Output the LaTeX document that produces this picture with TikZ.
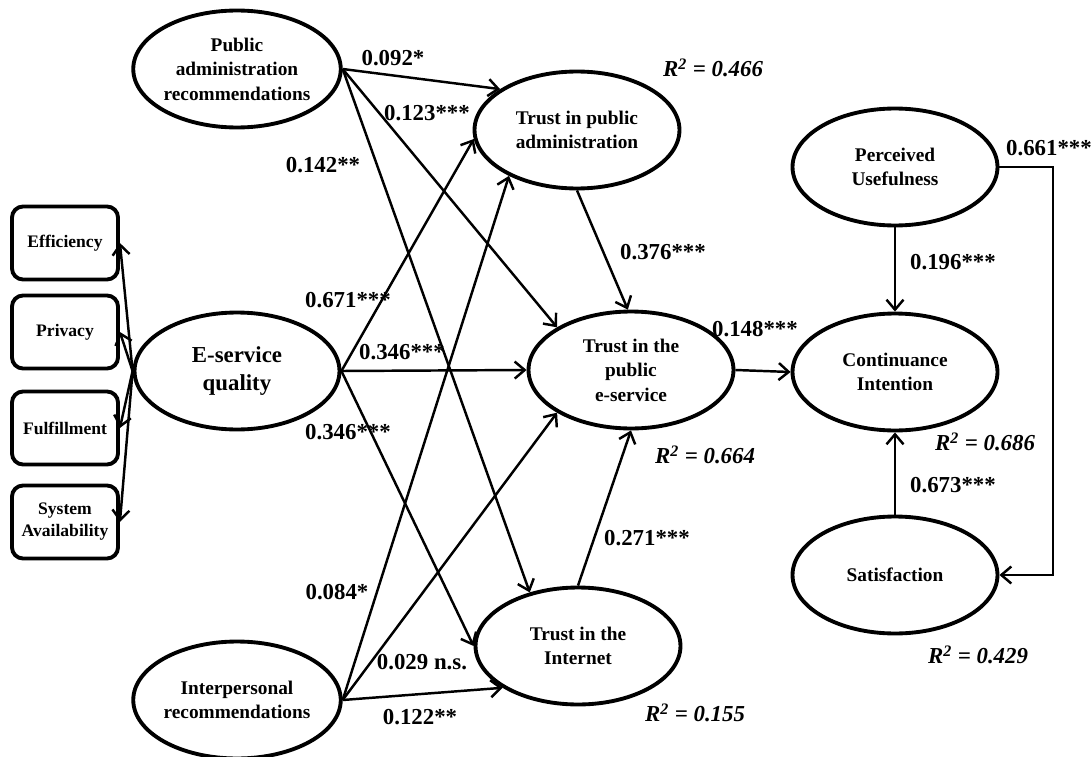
\documentclass[tikz,border=0pt]{standalone}
\usepackage{fontspec}
\setmainfont{Liberation Serif}
\usetikzlibrary{shapes.geometric,arrows.meta}

\begin{document}
\begin{tikzpicture}[x=0.02cm,y=-0.02cm,
  construct/.style={ellipse,draw,line width=2.2pt,minimum width=4.1cm,minimum height=2.34cm,
    inner sep=0pt,align=center,font=\bfseries\fontsize{11}{14}\selectfont},
  dimension/.style={draw,rounded corners=0.22cm,line width=2.2pt,minimum width=2.12cm,
    minimum height=1.46cm,inner sep=1pt,align=center,font=\bfseries\fontsize{10}{12.5}\selectfont},
  effect/.style={line width=1.4pt,-{Straight Barb[length=2mm,width=3.4mm]}},
  coef/.style={font=\bfseries\fontsize{13}{15}\selectfont,inner sep=1pt},
  rsq/.style={font=\bfseries\itshape\fontsize{13}{15}\selectfont,inner sep=1pt}]
  \useasboundingbox (0,0) rectangle (1092,757);

  % Constructs (ellipses)
  \node[construct] (par) at (237,69) {Public\\administration\\recommendations};
  \node[construct,font=\bfseries\fontsize{13}{15.5}\selectfont] (esq) at (237,371) {E-service\\quality};
  \node[construct] (ir) at (237,700) {Interpersonal\\recommendations};
  \node[construct] (tpa) at (577,130) {Trust in public\\administration};
  \node[construct] (tpe) at (631,370) {Trust in the\\public\\e-service};
  \node[construct] (ti) at (578,646) {Trust in the\\Internet};
  \node[construct] (pu) at (895,167) {Perceived\\Usefulness};
  \node[construct] (ci) at (895,372) {Continuance\\Intention};
  \node[construct] (sat) at (895,575) {Satisfaction};

  % Dimensions of e-service quality
  \node[dimension] (eff) at (65,243) {Efficiency};
  \node[dimension] (priv) at (65,332) {Privacy};
  \node[dimension] (ful) at (65,428) {Fulfillment};
  \node[dimension] (sys) at (65,522) {System\\Availability};

  \draw[effect] (esq.west) -- (eff.east);
  \draw[effect] (esq.west) -- (priv.east);
  \draw[effect] (esq.west) -- (ful.east);
  \draw[effect] (esq.west) -- (sys.east);

  % Paths from the antecedents
  \draw[effect] (par.east) -- (tpa.152);
  \draw[effect] (par.east) -- (tpe.150);
  \draw[effect] (par.east) -- (ti.132);
  \draw[effect] (esq.east) -- (tpa.185);
  \draw[effect] (esq.east) -- (tpe.west);
  \draw[effect] (esq.east) -- (ti.west);
  \draw[effect] (ir.east) -- (tpa.214);
  \draw[effect] (ir.east) -- (tpe.210);
  \draw[effect] (ir.east) -- (ti.209);

  % Paths between the trust constructs
  \draw[effect] (tpa.south) -- (tpe.93);
  \draw[effect] (ti.north) -- (tpe.south);
  \draw[effect] (tpe.east) -- (ci.west);

  % Continuance model
  \coordinate (bend) at (1053,167);
  \draw[effect] (pu.south) -- (ci.north);
  \draw[effect] (sat.north) -- (ci.south);
  \draw[effect] (pu.east) -- (bend) |- (sat.east);

  % Path coefficients
  \node[coef] (c1) at (393,58) {0.092*};
  \node[coef] (c2) at (427,113) {0.123***};
  \node[coef] (c3) at (323,165) {0.142**};
  \node[coef] (c4) at (348,300) {0.671***};
  \node[coef] (c5) at (402,352) {0.346***};
  \node[coef] (c6) at (348,432) {0.346***};
  \node[coef] (c7) at (337,592) {0.084*};
  \node[coef] (c8) at (422,662) {0.029 n.s.};
  \node[coef] (c9) at (420,717) {0.122**};
  \node[coef] (c10) at (663,252) {0.376***};
  \node[coef] (c11) at (647,538) {0.271***};
  \node[coef] (c12) at (755,329) {0.148***};
  \node[coef] (c13) at (953,262) {0.196***};
  \node[coef] (c14) at (1049,148) {0.661***};
  \node[coef] (c15) at (953,485) {0.673***};

  % Explained variance
  \node[rsq] (r1) at (713,68) {R\textsuperscript{2} = 0.466};
  \node[rsq] (r2) at (705,455) {R\textsuperscript{2} = 0.664};
  \node[rsq] (r3) at (695,713) {R\textsuperscript{2} = 0.155};
  \node[rsq] (r4) at (985,442) {R\textsuperscript{2} = 0.686};
  \node[rsq] (r5) at (978,655) {R\textsuperscript{2} = 0.429};
\end{tikzpicture}
\end{document}
